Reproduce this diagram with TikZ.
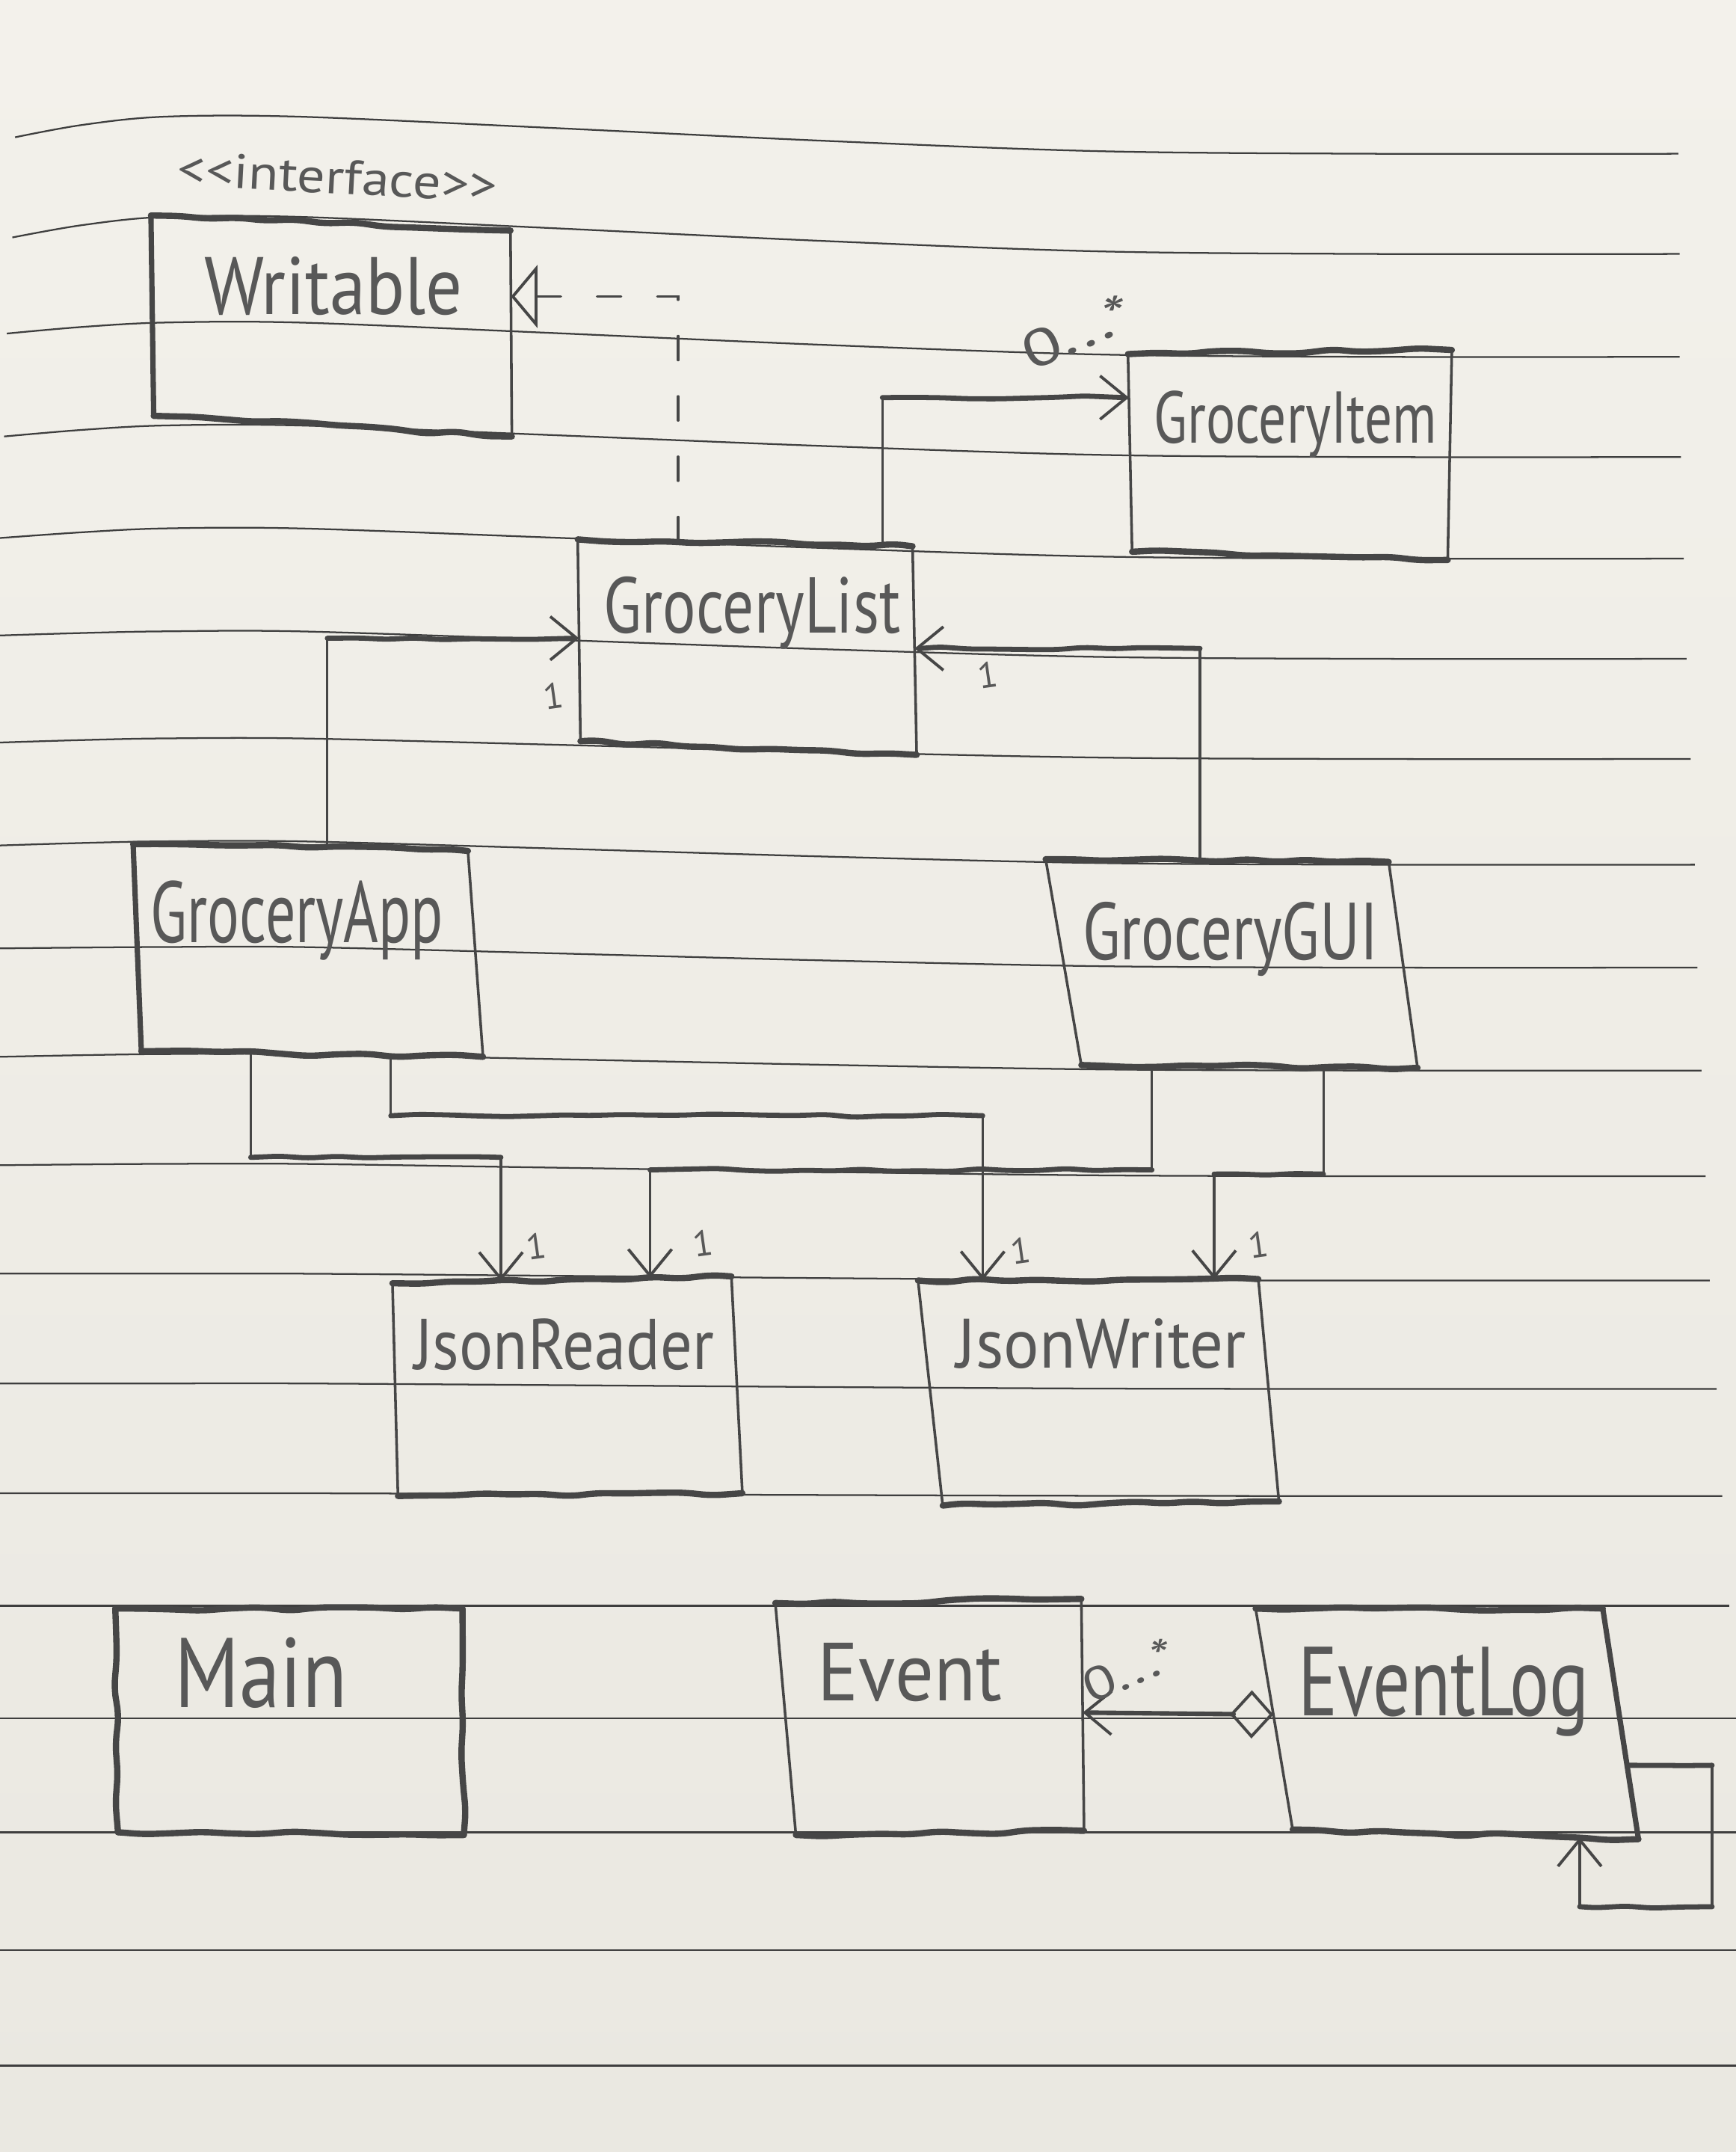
\documentclass[tikz,border=0pt]{standalone}
\usepackage{graphicx}
\usepackage{fontspec}
\newfontfamily\hand{PT Sans}
\usetikzlibrary{arrows.meta,calc,decorations.pathmorphing}

\definecolor{papertop}{RGB}{243,241,235}
\definecolor{paperbot}{RGB}{234,232,225}
\definecolor{ruling}{RGB}{62,62,62}
\definecolor{pencil}{RGB}{70,70,70}
\definecolor{lead}{RGB}{88,88,88}

% sketchy class box from four named corners
\newcommand\classbox[3]{%
  \draw[hedge] (#1-nw) -- (#1-ne);
  \draw[#2] (#1-ne) -- (#1-se);
  \draw[hedge] (#1-se) -- (#1-sw);
  \draw[#3] (#1-sw) -- (#1-nw);}
\newcommand\corners[9]{%
  \coordinate (#1-nw) at (#2,#3);
  \coordinate (#1-ne) at (#4,#5);
  \coordinate (#1-se) at (#6,#7);
  \coordinate (#1-sw) at (#8,#9);}

\begin{document}
\begin{tikzpicture}[x=0.01cm,y=-0.01cm,
  rule/.style={draw=ruling,line width=0.35pt},
  hedge/.style={draw=pencil,line width=1.3pt,line cap=round,line join=round,
    decorate,decoration={random steps,segment length=6pt,amplitude=0.45pt},rounded corners=2pt},
  vedge/.style={draw=pencil,line width=0.55pt,line cap=round},
  vheavy/.style={draw=pencil,line width=1.1pt,line cap=round},
  conn/.style={draw=pencil,line width=0.5pt,line cap=round},
  bar/.style={draw=pencil,line width=1.05pt,line cap=round,line join=round,
    decorate,decoration={random steps,segment length=6pt,amplitude=0.35pt},rounded corners=1.5pt},
  classname/.style={inner sep=0pt,outer sep=0pt,anchor=base west,text=lead,font=\hand},
  mult/.style={inner sep=0pt,text=lead,font=\hand\fontsize{7.5}{8}\selectfont,rotate=8},
  many/.style={inner sep=0pt,text=lead,font=\hand,rotate=23},
  barb/.tip={Straight Barb[length=5.5pt,width=9pt,line width=0.6pt]},
  otri/.tip={Triangle[open,length=5.5pt,width=13pt,line width=0.6pt]},
  odiam/.tip={Diamond[open,length=9pt,width=10pt,line width=0.6pt]}
]
% paper
\shade[top color=papertop,bottom color=paperbot] (0,0) rectangle (1265,1568);
\useasboundingbox (0,0) rectangle (1265,1568);

% ruled lines of the notebook page
\foreach \xl/\ym/\d/\t/\xr in {11/85/15/27/1223, 9/158/15/27/1224, 5/235/8/25/1224,
  3/310/8/23/1225, 0/385/7/22/1227, 0/460/3/20/1229, 0/538/3/15/1232, 0/613/3/17/1235,
  0/690/1/15/1237, 0/768/2/12/1240, 0/848/1/9/1243, 0/928/0/5/1246, 0/1008/0/4/1251,
  0/1088/0/2/1255, 0/1170/0/0/1260, 0/1252/0/0/1265, 0/1335/0/0/1265, 0/1421/0/0/1265,
  0/1505/0/0/1265}
  \draw[rule] plot[smooth,tension=0.55] coordinates {(\xl,{\ym+\d}) (60,{\ym+0.4*\d})
    (120,\ym) (218,\ym) (400,{\ym+0.3*\t}) (600,{\ym+0.65*\t}) (800,{\ym+0.93*\t})
    (1000,{\ym+\t}) (\xr,{\ym+\t})};

% class box corners
\corners{wr}{110}{157}{372}{168}{373}{318}{112}{303}
\corners{gi}{822}{258}{1058}{255}{1055}{408}{825}{402}
\corners{gl}{421}{393}{665}{398}{668}{550}{423}{540}
\corners{app}{97}{615}{341}{620}{352}{770}{103}{766}
\corners{gui}{762}{626}{1012}{628}{1033}{778}{788}{776}
\corners{jr}{286}{935}{533}{930}{541}{1088}{290}{1090}
\corners{jw}{669}{933}{917}{932}{932}{1094}{687}{1097}
\corners{mn}{84}{1172}{337}{1172}{338}{1337}{86}{1335}
\corners{ev}{565}{1168}{788}{1165}{790}{1334}{580}{1337}
\corners{el}{915}{1172}{1168}{1172}{1194}{1340}{942}{1333}

\classbox{wr}{vedge}{vheavy}
\classbox{gi}{vedge}{vedge}
\classbox{gl}{vedge}{vedge}
\classbox{app}{vedge}{vheavy}
\classbox{gui}{vedge}{vedge}
\classbox{jr}{vedge}{vedge}
\classbox{jw}{vedge}{vedge}
\classbox{mn}{hedge}{hedge}
\classbox{ev}{vedge}{vedge}
\classbox{el}{vheavy}{vedge}

% class names
\node[classname,rotate=-3] (wr-st) at (129,135) {\resizebox{2.33cm}{0.25cm}{<\kern0pt<interface>\kern0pt>}};
\node[classname] (wr) at (149,229) {\resizebox{1.88cm}{0.42cm}{Writable}};
\node[classname] (gi) at (841,323) {\resizebox{2.06cm}{0.38cm}{GroceryItem}};
\node[classname] (gl) at (440,461) {\resizebox{2.16cm}{0.41cm}{GroceryList}};
\node[classname] (app) at (110,687) {\resizebox{2.13cm}{0.45cm}{GroceryApp}};
\node[classname] (gui) at (789,699) {\resizebox{2.15cm}{0.42cm}{GroceryGUI}};
\node[classname] (jr) at (302,998) {\resizebox{2.18cm}{0.37cm}{JsonReader}};
\node[classname] (jw) at (697,997) {\resizebox{2.11cm}{0.36cm}{JsonWriter}};
\node[classname] (mn) at (127,1244) {\resizebox{1.26cm}{0.51cm}{Main}};
\node[classname] (ev) at (596,1239) {\resizebox{1.34cm}{0.42cm}{Event}};
\node[classname] (el) at (946,1250) {\resizebox{2.12cm}{0.50cm}{EventLog}};

% GroceryList realizes Writable
\coordinate (gl-n1) at ($(gl-nw)!0.30!(gl-ne)$);
\coordinate (wr-e) at ($(wr-ne)!0.32!(wr-se)$);
\draw[conn,otri-,dash pattern=on 5pt off 7.5pt] (wr-e) -| (gl-n1);

% GroceryList -> GroceryItem
\coordinate (gl-n2) at ($(gl-nw)!0.91!(gl-ne)$);
\coordinate (gi-w) at ($(gi-nw)!0.22!(gi-sw)$);
\draw[conn,-barb] (gl-n2) |- (gi-w);
\draw[bar] (gl-n2 |- gi-w) -- ($(gi-w)+(-4,0)$);
\node[many] (m-gi) at (785,242) {\resizebox{0.84cm}{0.27cm}{0...*}};

% GroceryApp -> GroceryList
\coordinate (app-n) at ($(app-nw)!0.58!(app-ne)$);
\coordinate (gl-w) at ($(gl-nw)!0.49!(gl-sw)$);
\draw[conn,-barb] (app-n) |- (gl-w);
\draw[bar] (app-n |- gl-w) -- ($(gl-w)+(-4,0)$);
\node[mult] (m-app) at (403,507) {1};

% GroceryGUI -> GroceryList
\coordinate (gui-n) at ($(gui-nw)!0.45!(gui-ne)$);
\coordinate (gl-e) at ($(gl-ne)!0.49!(gl-se)$);
\draw[conn,-barb] (gui-n) |- (gl-e);
\draw[bar] (gui-n |- gl-e) -- ($(gl-e)+(4,0)$);
\node[mult] (m-gui) at (720,492) {1};

% GroceryApp -> JsonReader / JsonWriter
\coordinate (app-s1) at ($(app-sw)!0.32!(app-se)$);
\coordinate (app-s2) at ($(app-sw)!0.73!(app-se)$);
\coordinate (jr-n1) at ($(jr-nw)!0.32!(jr-ne)$);
\coordinate (jr-n2) at ($(jr-nw)!0.76!(jr-ne)$);
\coordinate (jw-n1) at ($(jw-nw)!0.19!(jw-ne)$);
\coordinate (jw-n2) at ($(jw-nw)!0.87!(jw-ne)$);
\draw[conn,-barb] (app-s1) -- ++(0,76) coordinate (a1) -| (jr-n1);
\draw[bar] (a1) -- (a1 -| jr-n1);
\draw[conn,-barb] (app-s2) -- ++(0,44) coordinate (a2) -| (jw-n1);
\draw[bar] (a2) -- (a2 -| jw-n1);

% GroceryGUI -> JsonReader / JsonWriter
\coordinate (gui-s1) at ($(gui-sw)!0.21!(gui-se)$);
\coordinate (gui-s2) at ($(gui-sw)!0.72!(gui-se)$);
\draw[conn,-barb] (gui-s1) -- ++(0,76) coordinate (g1) -| (jr-n2);
\draw[bar] (g1) -- (g1 -| jr-n2);
\draw[conn,-barb] (gui-s2) -- ++(0,78) coordinate (g2) -| (jw-n2);
\draw[bar] (g2) -- (g2 -| jw-n2);

\node[mult] (m-jr1) at (391,908) {1};
\node[mult] (m-jr2) at (512,906) {1};
\node[mult] (m-jw1) at (744,911) {1};
\node[mult] (m-jw2) at (917,907) {1};

% EventLog aggregates Event
\coordinate (el-w) at ($(el-nw)!0.48!(el-sw)$);
\coordinate (ev-e) at ($(ev-ne)!0.49!(ev-se)$);
\draw[pencil,line width=0.95pt,line cap=round,odiam-barb] (el-w) -- (ev-e);
\node[many] (m-ev) at (823,1217) {\resizebox{0.7cm}{0.24cm}{0...*}};

% EventLog self association
\coordinate (el-e) at ($(el-ne)!0.68!(el-se)$);
\coordinate (el-s) at ($(el-sw)!0.83!(el-se)$);
\draw[conn,line width=0.65pt,-barb] (el-e) -- ++(62,0) coordinate (lp1) -- ++(0,103) coordinate (lp2) -| (el-s);
\draw[bar] (el-e) -- (lp1);
\draw[bar] (lp2) -- (lp2 -| el-s);
\end{tikzpicture}
\end{document}
